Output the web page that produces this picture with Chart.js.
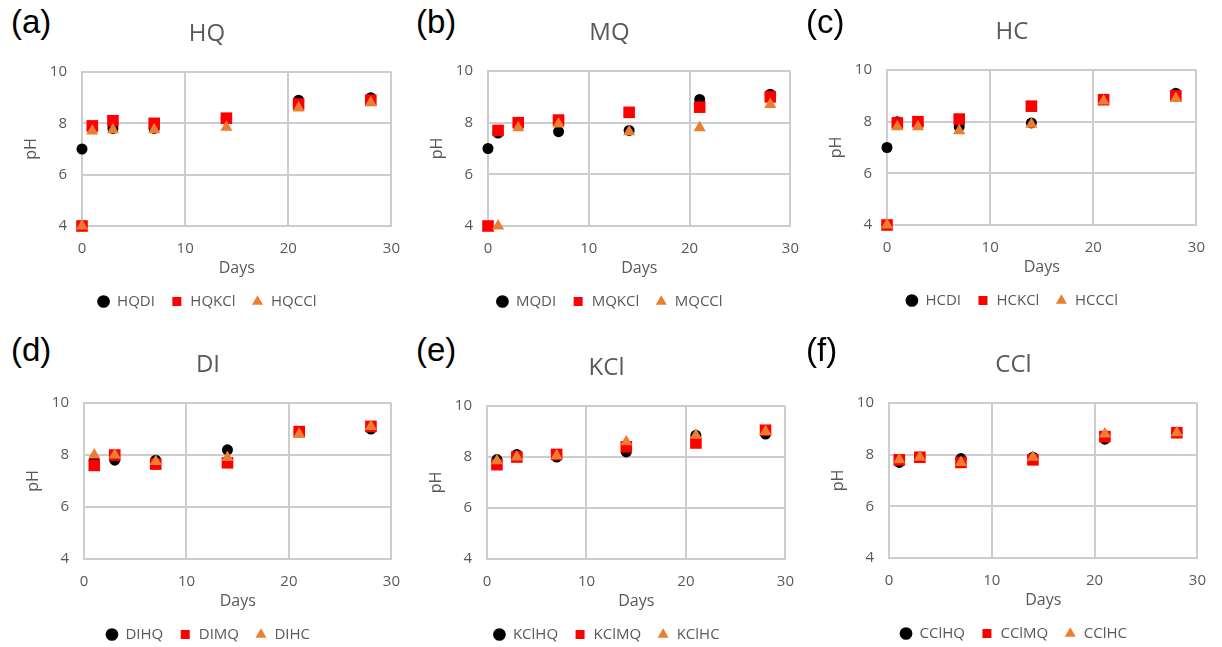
<!DOCTYPE html>
<html>
<head>
<meta charset="utf-8">
<script src="https://cdn.jsdelivr.net/npm/chart.js@4.4.1/dist/chart.umd.min.js"></script>
<style>
  body { margin: 0; background: #fff; width: 1222px; height: 647px; position: relative; overflow: hidden; }
  canvas { position: absolute; }
  .tag { position: absolute; font-family: "Liberation Sans", Arial, sans-serif; font-size: 33px; line-height: 33px; color: #000; white-space: nowrap; }
</style>
</head>
<body>
<script>
// Sampling days
const daysFull = [0, 1, 3, 7, 14, 21, 28];
const daysLater = [1, 3, 7, 14, 21, 28];

// (a) HQ
const hqDI  = [7.0, 7.8, 7.8, 7.8, 8.2, 8.9, 9.0];
const hqKCl = [4.0, 7.9, 8.1, 8.0, 8.2, 8.75, 8.9];
const hqCCl = [4.0, 7.7, 7.75, 7.75, 7.85, 8.6, 8.8];

// (b) MQ
const mqDI  = [7.0, 7.6, 7.9, 7.65, 7.7, 8.9, 9.1];
const mqKCl = [4.0, 7.7, 8.0, 8.1, 8.4, 8.6, 9.0];
const mqCCl = [4.0, 7.8, 7.95, 7.65, 7.8, 8.7];   // on daysLater

// (c) HC
const hcDI  = [7.0, 8.0, 7.9, 7.8, 7.95, 8.85, 9.1];
const hcKCl = [4.0, 7.95, 8.0, 8.1, 8.6, 8.85, 9.0];
const hcCCl = [4.0, 7.8, 7.8, 7.65, 7.9, 8.8, 8.9];

// (d) DI
const diHQ = [7.8, 7.8, 7.8, 8.2, 8.9, 9.0];
const diMQ = [7.6, 8.0, 7.65, 7.7, 8.9, 9.1];
const diHC = [8.0, 8.0, 7.75, 7.9, 8.8, 9.1];

// (e) KCl
const kclHQ = [7.9, 8.1, 8.0, 8.2, 8.85, 8.9];
const kclMQ = [7.7, 8.0, 8.1, 8.4, 8.55, 9.05];
const kclHC = [7.85, 8.0, 8.05, 8.6, 8.85, 9.0];

// (f) CCl
const cclHQ = [7.7, 7.9, 7.85, 7.9, 8.6, 8.85];
const cclMQ = [7.8, 7.9, 7.7, 7.8, 8.7, 8.85];
const cclHC = [7.8, 7.9, 7.7, 7.9, 8.8, 8.85];

// Labels
const panelTags   = ['(a)', '(b)', '(c)', '(d)', '(e)', '(f)'];
const panelTitles = ['HQ', 'MQ', 'HC', 'DI', 'KCl', 'CCl'];
const seriesNames = [
  ['HQDI', 'HQKCl', 'HQCCl'],
  ['MQDI', 'MQKCl', 'MQCCl'],
  ['HCDI', 'HCKCl', 'HCCCl'],
  ['DIHQ', 'DIMQ', 'DIHC'],
  ['KClHQ', 'KClMQ', 'KClHC'],
  ['CClHQ', 'CClMQ', 'CClHC']
];
const seriesDays = [
  [daysFull, daysFull, daysFull],
  [daysFull, daysFull, daysLater],
  [daysFull, daysFull, daysFull],
  [daysLater, daysLater, daysLater],
  [daysLater, daysLater, daysLater],
  [daysLater, daysLater, daysLater]
];
const seriesValues = [
  [hqDI, hqKCl, hqCCl],
  [mqDI, mqKCl, mqCCl],
  [hcDI, hcKCl, hcCCl],
  [diHQ, diMQ, diHC],
  [kclHQ, kclMQ, kclHC],
  [cclHQ, cclMQ, cclHC]
];
const xTicks = { min: 0, max: 30, step: 10 };
const yTicks = { min: 4, max: 10, step: 2 };

// Plot rectangles of the six panels (page pixels)
const frames = [
  { l: 82,  t: 72,  r: 396,  b: 226, tagX: 11,  tagY: 5 },
  { l: 488, t: 71,  r: 795,  b: 226, tagX: 416, tagY: 5 },
  { l: 887, t: 70,  r: 1201, b: 225, tagX: 806, tagY: 5 },
  { l: 84,  t: 403, r: 396,  b: 559, tagX: 11,  tagY: 333 },
  { l: 487, t: 406, r: 790,  b: 559, tagX: 416, tagY: 333 },
  { l: 889, t: 403, r: 1202, b: 558, tagX: 806, tagY: 333 }
];

const markerStyles = [
  { color: '#000000', pointStyle: 'circle',   radius: 5.5, order: 3 },
  { color: '#FF0000', pointStyle: 'rect',     radius: 8.2, order: 2 },
  { color: '#ED7D31', pointStyle: 'triangle', radius: 7,   order: 1 }
];

const TEXT = '#595959';
const GRID = '#cdcdcd';
const FONT = '"Open Sans", "DejaVu Sans", sans-serif';
const Y_AXIS_W = 82, RIGHT_W = 18, TOP_BLOCK = 72, X_AXIS_H = 52, LEGEND_H = 41;

frames.forEach((f, i) => {
  const tag = document.createElement('div');
  tag.className = 'tag';
  tag.textContent = panelTags[i];
  tag.style.left = f.tagX + 'px';
  tag.style.top = f.tagY + 'px';
  document.body.appendChild(tag);

  const w = (f.r - f.l) + Y_AXIS_W + RIGHT_W;
  const h = (f.b - f.t) + TOP_BLOCK + X_AXIS_H + LEGEND_H;
  const canvas = document.createElement('canvas');
  canvas.width = w;
  canvas.height = h;
  canvas.style.width = w + 'px';
  canvas.style.height = h + 'px';
  canvas.style.left = (f.l - Y_AXIS_W) + 'px';
  canvas.style.top = (f.t - TOP_BLOCK) + 'px';
  document.body.appendChild(canvas);

  const datasets = seriesNames[i].map((name, k) => ({
    label: name,
    data: seriesDays[i][k].map((d, j) => ({ x: d, y: seriesValues[i][k][j] })),
    backgroundColor: markerStyles[k].color,
    borderColor: markerStyles[k].color,
    pointStyle: markerStyles[k].pointStyle,
    pointRadius: markerStyles[k].radius,
    pointHoverRadius: markerStyles[k].radius,
    pointBorderWidth: 0,
    order: markerStyles[k].order,
    clip: false
  }));

  new Chart(canvas, {
    type: 'scatter',
    data: { datasets },
    options: {
      responsive: false,
      animation: false,
      devicePixelRatio: 1,
      layout: { padding: 0 },
      plugins: {
        tooltip: { enabled: false },
        title: {
          display: true,
          text: panelTitles[i],
          color: TEXT,
          font: { family: FONT, size: 24, weight: 'normal' },
          padding: { top: 19.6, bottom: 23.6 }
        },
        legend: {
          position: 'bottom',
          labels: {
            usePointStyle: true,
            boxWidth: 12,
            boxHeight: 9,
            padding: 16,
            color: TEXT,
            font: { family: FONT, size: 15 },
            sort: (a, b) => a.datasetIndex - b.datasetIndex
          }
        }
      },
      scales: {
        x: {
          type: 'linear',
          min: xTicks.min, max: xTicks.max,
          afterFit: s => { s.height = X_AXIS_H; },
          ticks: { stepSize: xTicks.step, color: TEXT, font: { family: FONT, size: 15 }, padding: 14 },
          grid: { color: GRID, lineWidth: 2, drawTicks: false },
          border: { color: GRID, width: 2 },
          title: { display: true, text: 'Days', color: TEXT, font: { family: FONT, size: 16 }, padding: 0 }
        },
        y: {
          min: yTicks.min, max: yTicks.max,
          afterFit: s => { s.width = Y_AXIS_W; },
          ticks: { stepSize: yTicks.step, color: TEXT, font: { family: FONT, size: 15 }, padding: 15 },
          grid: { color: GRID, lineWidth: 2, drawTicks: false },
          border: { color: GRID, width: 2 },
          title: { display: true, text: 'pH', color: TEXT, font: { family: FONT, size: 16 }, padding: { top: 22, bottom: 0 } }
        },
        // empty right-hand margin so title and legend centre on the whole panel
        yRight: {
          position: 'right',
          min: yTicks.min, max: yTicks.max,
          afterFit: s => { s.width = RIGHT_W; },
          ticks: { display: false },
          grid: { display: false, drawTicks: false },
          border: { display: false }
        }
      }
    }
  });
});
</script>
</body>
</html>
